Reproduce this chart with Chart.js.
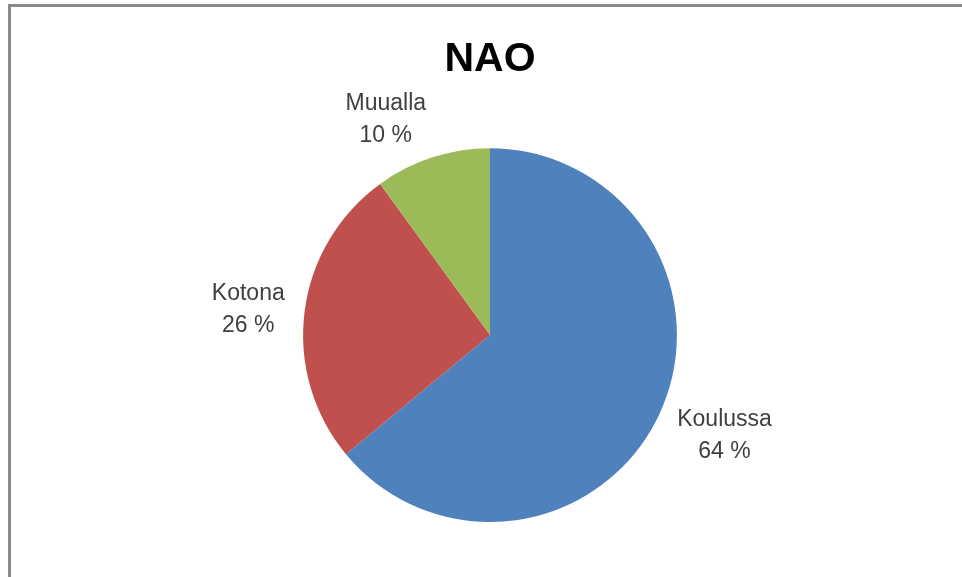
<!DOCTYPE html>
<html>
<head>
<meta charset="utf-8">
<script src="https://cdn.jsdelivr.net/npm/chart.js@4"></script>
<style>
    body { margin: 0; background: #fff; }
    #frame {
        position: absolute; left: 8px; top: 4px; width: 970px; height: 600px;
        border-top: 3px solid #8a8a8a; border-left: 3px solid #8a8a8a;
    }
    #wrap { position: absolute; left: 0; top: 0; width: 962px; height: 577px; }
</style>
</head>
<body>
<div id="frame"></div>
<div id="wrap"><canvas id="pie"></canvas></div>
<script>
    // Data
    const categories = ["Koulussa", "Kotona", "Muualla"];
    const shares = [64, 26, 10];
    const sliceColors = ["#4F81BD", "#C0504D", "#9BBB59"];

    // Draw "Name / NN %" labels outside each slice
    const outsideLabels = {
        id: "outsideLabels",
        afterDatasetsDraw(chart) {
            const ctx = chart.ctx;
            const meta = chart.getDatasetMeta(0);
            ctx.save();
            ctx.font = "23px 'Liberation Sans', Arial, sans-serif";
            ctx.fillStyle = "#404040";
            ctx.textAlign = "center";
            ctx.textBaseline = "middle";
            const lineH = 32;
            meta.data.forEach(function(arc, i) {
                const p = arc.getProps(["x", "y", "startAngle", "endAngle", "outerRadius"], true);
                const mid = (p.startAngle + p.endAngle) / 2;
                const c = Math.cos(mid), s = Math.sin(mid);
                const lines = [categories[i], shares[i] + " %"];
                const w = Math.max.apply(null, lines.map(t => ctx.measureText(t).width));
                const h = lineH * 2;
                const ax = p.x + (p.outerRadius + 20) * c;
                const ay = p.y + (p.outerRadius + 20) * s;
                const cx = ax + Math.sign(c) * w / 2;
                const cy = ay + s * h * 0.35 + 3;
                ctx.fillText(lines[0], cx, cy - lineH / 2);
                ctx.fillText(lines[1], cx, cy + lineH / 2);
            });
            ctx.restore();
        }
    };

    const ctx = document.getElementById("pie").getContext("2d");
    new Chart(ctx, {
        type: "pie",
        data: {
            labels: categories,
            datasets: [{
                data: shares,
                backgroundColor: sliceColors,
                borderWidth: 0
            }]
        },
        options: {
            responsive: true,
            maintainAspectRatio: false,
            animation: false,
            layout: { padding: { left: 18, right: 0, top: 0, bottom: 55 } },
            plugins: {
                legend: { display: false },
                tooltip: { enabled: false },
                title: {
                    display: true,
                    text: "NAO",
                    color: "#000",
                    font: { family: "'Liberation Sans', Arial, sans-serif", size: 41, weight: "bold" },
                    padding: { top: 35, bottom: 64 }
                }
            }
        },
        plugins: [outsideLabels]
    });
</script>
</body>
</html>
